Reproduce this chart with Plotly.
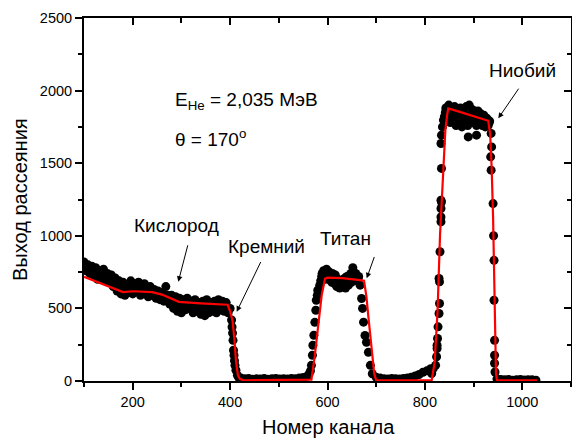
import plotly.graph_objects as go

# ---------------- data ----------------
# oxygen / silicon plateau, channels 100..400 every 4 channels
oxy_ch = list(range(100, 401, 4))
oxy_counts = [820, 760, 800, 740, 790, 730, 780, 700, 760, 710,
              770, 690, 740, 680, 730, 650, 710, 620, 690, 600,
              680, 590, 660, 610, 690, 600, 670, 620, 680, 590,
              660, 670, 640, 580, 650, 590, 630, 570, 620, 560,
              610, 550, 650, 590, 530, 590, 500, 580, 480, 570,
              470, 560, 490, 570, 500, 550, 470, 560, 480, 540,
              460, 550, 450, 560, 470, 540, 480, 550, 470, 560,
              490, 550, 480, 540, 470, 500]
# in-between channels of the same band
oxy_mid_ch = list(range(102, 399, 4))
oxy_mid_counts = [780, 775, 770, 765, 760, 750, 740, 735, 730, 725,
                  715, 705, 700, 690, 680, 670, 660, 655, 645, 640,
                  635, 630, 635, 640, 640, 635, 640, 635, 630, 625,
                  620, 615, 610, 610, 615, 605, 600, 595, 590, 585,
                  580, 575, 570, 560, 555, 545, 540, 530, 525, 520,
                  520, 525, 530, 525, 520, 515, 515, 520, 510, 505,
                  505, 510, 505, 510, 515, 510, 505, 510, 515, 510,
                  515, 510, 505, 500, 495]

si_edge_ch = [403, 404, 405, 406, 407, 408, 409, 410, 412, 415, 418]
si_edge_counts = [420, 372, 330, 280, 212, 177, 140, 108, 74, 39, 22]

base1_ch = list(range(422, 559, 8))
base1_counts = [20, 15, 18, 12, 16, 14, 18, 12, 15, 17, 13, 16, 14, 18, 15, 20, 24, 32]

ti_left_ch = [562, 565, 567, 569, 570, 572, 574, 576, 577, 579, 580, 584]
ti_left_counts = [48, 70, 108, 177, 246, 315, 404, 487, 556, 590, 625, 659]

ti_top_ch = list(range(586, 668, 3))
ti_top_counts = [690, 740, 760, 700, 770, 720, 750, 690, 740, 680,
                 730, 650, 700, 640, 660, 650, 700, 640, 720, 660,
                 730, 680, 780, 700, 740, 690, 720, 660]
ti_mid_ch = list(range(588, 666, 3))
ti_mid_counts = [720, 700, 730, 710, 740, 700, 720, 680, 700, 670,
                 690, 660, 680, 670, 690, 700, 710, 690, 720, 700,
                 740, 720, 710, 730, 700, 710]

ti_right_ch = [670, 672, 674, 677, 680, 684, 688, 692]
ti_right_counts = [568, 500, 405, 313, 267, 198, 108, 50]

base2_ch = list(range(700, 813, 8))
base2_counts = [25, 20, 16, 14, 18, 15, 13, 17, 20, 26, 35, 45, 60, 70, 85]

nb_left_ch = [814, 817, 822, 824, 825, 825, 826, 827, 829, 830, 830, 829,
              831, 833, 833, 833, 834, 833, 834, 833, 834, 836, 838]
nb_left_counts = [51, 85, 108, 167, 224, 247, 293, 373, 465, 534, 683, 706,
                  890, 1097, 1130, 1188, 1233, 1245, 1464, 1636, 1693, 1750, 1797]

nb_top_ch = list(range(840, 934, 3))
nb_top_counts = [1820, 1880, 1850, 1900, 1780, 1870, 1820, 1890, 1760, 1860,
                 1800, 1880, 1750, 1850, 1790, 1890, 1760, 1900, 1820, 1870,
                 1780, 1840, 1760, 1860, 1790, 1840, 1760, 1830, 1750, 1810,
                 1760, 1790]
nb_mid_ch = list(range(842, 934, 3))
nb_mid_counts = [1850, 1860, 1840, 1860, 1850, 1840, 1855, 1830, 1840, 1845,
                 1830, 1825, 1840, 1820, 1830, 1815, 1825, 1810, 1820, 1800,
                 1815, 1800, 1810, 1795, 1800, 1790, 1800, 1780, 1790, 1775,
                 1780]

nb_dip_ch = [889, 906]
nb_dip_counts = [1681, 1693]

nb_right_ch = [936, 937, 935, 936, 940, 941, 942, 942, 943, 943, 943, 944]
nb_right_counts = [1705, 1612, 1544, 1452, 1222, 1000, 831, 556, 280, 177, 122, 62]

base3_ch = list(range(948, 1029, 8))
base3_counts = [15, 10, 8, 10, 6, 8, 10, 7, 9, 8, 6]

# simulated spectrum (red line)
fit_ch = [100, 120, 150, 180, 200, 240, 260, 280, 295, 340, 395, 400, 405, 409, 412, 416, 420, 427,
          560, 567, 574, 581, 588, 595, 600, 630, 660, 667, 675, 680, 684, 688, 692, 696, 700,
          814, 820, 826, 831, 835, 839, 842, 846, 848, 870, 890, 910, 930, 934, 937, 940, 942,
          944, 946, 948, 1030]
fit_counts = [717, 690, 650, 612, 618, 612, 595, 565, 545, 535, 525, 480, 415, 280, 140, 40, 15, 5,
              5, 10, 177, 405, 590, 705, 712, 708, 700, 695, 690, 580, 440, 300, 160, 50, 5,
              5, 130, 480, 1000, 1300, 1560, 1728, 1840, 1877, 1855, 1835, 1815, 1792, 1700, 1475, 1130, 700,
              300, 50, 5, 5]

x_ticks = [200, 400, 600, 800, 1000]
y_ticks = [0, 500, 1000, 1500, 2000, 2500]

# ---------------- figure ----------------
exp_ch = (oxy_ch + oxy_mid_ch + si_edge_ch + base1_ch + ti_left_ch + ti_top_ch + ti_mid_ch
          + ti_right_ch + base2_ch + nb_left_ch + nb_top_ch + nb_mid_ch + nb_dip_ch
          + nb_right_ch + base3_ch)
exp_counts = (oxy_counts + oxy_mid_counts + si_edge_counts + base1_counts + ti_left_counts
              + ti_top_counts + ti_mid_counts + ti_right_counts + base2_counts + nb_left_counts
              + nb_top_counts + nb_mid_counts + nb_dip_counts + nb_right_counts + base3_counts)

W, H = 572, 439
L, R, T, B = 84, 1, 18, 58
PW, PH = W - L - R, H - T - B

FONT = "Arial, Liberation Sans, sans-serif"

fig = go.Figure()
fig.add_trace(go.Scatter(x=exp_ch, y=exp_counts, mode="markers",
                         marker=dict(color="black", size=9, line=dict(width=0)),
                         showlegend=False, hoverinfo="skip"))
fig.add_trace(go.Scatter(x=fit_ch, y=fit_counts, mode="lines",
                         line=dict(color="#ff0000", width=2.2),
                         xaxis="x2", yaxis="y2", showlegend=False, hoverinfo="skip"))

XR = [100, 1100]
YR = [0, 2500]

common = dict(showline=True, linewidth=2, linecolor="black", showgrid=False, zeroline=False,
              tickwidth=2, tickcolor="black", ticklen=7,
              tickfont=dict(family=FONT, size=14.5, color="black"))

fig.update_layout(
    width=W, height=H,
    margin=dict(l=L, r=R, t=T, b=B, pad=0),
    paper_bgcolor="white", plot_bgcolor="white",
    xaxis=dict(range=XR, tickvals=x_ticks, ticks="outside",
               minor=dict(tickvals=list(range(100, 1101, 100)), ticks="outside", ticklen=4,
                          tickwidth=2, tickcolor="black"),
               **common),
    yaxis=dict(range=YR, tickvals=y_ticks, ticks="outside",
               minor=dict(tickvals=list(range(0, 2501, 250)), ticks="outside", ticklen=4,
                          tickwidth=2, tickcolor="black"),
               **common),
    xaxis2=dict(range=XR, overlaying="x", side="top", tickvals=x_ticks, ticks="inside",
                showticklabels=False,
                minor=dict(tickvals=list(range(100, 1101, 100)), ticks="inside", ticklen=5,
                           tickwidth=2, tickcolor="black"),
                **common),
    yaxis2=dict(range=YR, overlaying="y", side="right", tickvals=y_ticks, ticks="inside",
                showticklabels=False,
                minor=dict(tickvals=list(range(0, 2501, 250)), ticks="inside", ticklen=4,
                           tickwidth=2, tickcolor="black"),
                **common),
)


def P(px, py):
    return (px - L) / PW, (T + PH - py) / PH


def text_ann(txt, px, py, size=19, xanchor="center", angle=0):
    x, y = P(px, py)
    fig.add_annotation(x=x, y=y, xref="paper", yref="paper", text=txt, showarrow=False,
                       xanchor=xanchor, yanchor="middle", textangle=angle,
                       font=dict(family=FONT, size=size, color="black"))


def arrow(tail, head):
    x, y = P(*head)
    fig.add_annotation(x=x, y=y, xref="paper", yref="paper", text=" ", showarrow=True,
                       ax=tail[0] - head[0], ay=tail[1] - head[1], axref="pixel", ayref="pixel",
                       arrowhead=2, arrowsize=1.1, arrowwidth=1, arrowcolor="black",
                       standoff=0, startstandoff=0, font=dict(size=1))


text_ann("E<sub>He</sub> = 2,035 МэВ", 173, 101, xanchor="left")
text_ann("θ = 170<sup>o</sup>", 173, 138, xanchor="left")
text_ann("Кислород", 176.5, 225)
text_ann("Кремний", 266, 246.5)
text_ann("Титан", 345.5, 238)
text_ann("Ниобий", 522.5, 70)

arrow((188.3, 243.3), (178.3, 281.7))
arrow((261.7, 260), (236.7, 311.7))
arrow((375, 255), (366.7, 278.3))
arrow((520, 86.7), (498.3, 118.3))

text_ann("Номер канала", 328, 427, size=20)
text_ann("Выход рассеяния", 20, 200, size=20, angle=-90)

fig.write_html("out.html")
